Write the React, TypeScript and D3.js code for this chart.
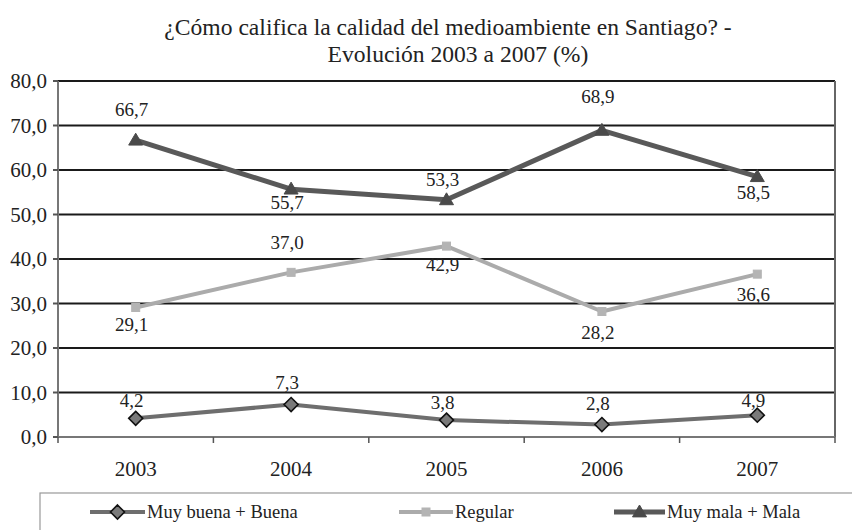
import React from "react";
import * as d3 from "d3";

const years = ["2003", "2004", "2005", "2006", "2007"];
const buena = [4.2, 7.3, 3.8, 2.8, 4.9];
const regular = [29.1, 37.0, 42.9, 28.2, 36.6];
const mala = [66.7, 55.7, 53.3, 68.9, 58.5];
const yTicks = [0, 10, 20, 30, 40, 50, 60, 70, 80];
const seriesNames = ["Muy buena + Buena", "Regular", "Muy mala + Mala"];
const titleLines = ["¿Cómo califica la calidad del medioambiente en Santiago? -", "Evolución 2003 a 2007 (%)"];

// label vertical offsets (label centre relative to point), px
const buenaLabelDy = [-18, -22, -18, -21, -15];
const regularLabelDy = [17, -30, 18, 21, 20];
const malaLabelDy = [-31, 13, -20, -34, 16];

const FONT = "Liberation Serif";

const W = 852;
const H = 530;
const plot = { left: 58, right: 835, top: 81, bottom: 437 };

const x = d3.scaleBand<string>().domain(years).range([plot.left, plot.right]);
const y = d3.scaleLinear().domain([0, 80]).range([plot.bottom, plot.top]);
const cx = (d: string) => (x(d) as number) + x.bandwidth() / 2;

const fmt = (v: number) => v.toFixed(1).replace(".", ",");

type Marker = "diamond" | "square" | "triangle";

function MarkerShape({ type, px, py, fill }: { type: Marker; px: number; py: number; fill: string }) {
  if (type === "diamond") {
    const r = 7;
    return (
      <path
        d={`M${px},${py - r}L${px + r},${py}L${px},${py + r}L${px - r},${py}Z`}
        fill={fill}
        stroke="#111"
        strokeWidth={1.6}
      />
    );
  }
  if (type === "square") {
    const s = 8;
    return <rect x={px - s / 2} y={py - s / 2} width={s} height={s} fill={fill} stroke={fill} strokeWidth={1} />;
  }
  const r = 7;
  return (
    <path
      d={`M${px},${py - r}L${px + r},${py + r * 0.7}L${px - r},${py + r * 0.7}Z`}
      fill={fill}
      stroke={fill}
      strokeWidth={1}
    />
  );
}

const series = [
  { name: seriesNames[0], values: buena, dys: buenaLabelDy, color: "#6e6e6e", markerFill: "#7a7a7a", marker: "diamond" as Marker, width: 4 },
  { name: seriesNames[1], values: regular, dys: regularLabelDy, color: "#ababab", markerFill: "#b4b4b4", marker: "square" as Marker, width: 4 },
  { name: seriesNames[2], values: mala, dys: malaLabelDy, color: "#595959", markerFill: "#4a4a4a", marker: "triangle" as Marker, width: 5 },
];

export default function App() {
  const line = d3
    .line<number>()
    .x((_, i) => cx(years[i]))
    .y((v) => y(v));

  const legendItems = [
    { x0: 90, textX: 147 },
    { x0: 399, textX: 455 },
    { x0: 614, textX: 667 },
  ];

  const txt = { fontFamily: FONT };
  const titleX = [448, 458];

  return (
    <svg width={W} height={H} style={{ position: "absolute", left: 0, top: 0, background: "#fff" }}>
      <rect x={0} y={0} width={W} height={H} fill="#fff" />
      {/* title */}
      {titleLines.map((t, i) => (
        <text key={i} x={titleX[i]} y={35 + i * 27} textAnchor="middle" fontSize={23.6} fill="#222" style={txt}>
          {t}
        </text>
      ))}
      {/* gridlines */}
      {yTicks.filter((t) => t > 0).map((t) => (
        <line key={t} x1={plot.left} x2={plot.right} y1={y(t)} y2={y(t)} stroke="#1a1a1a" strokeWidth={2} />
      ))}
      {/* plot border right */}
      <line x1={plot.right} x2={plot.right} y1={plot.top} y2={plot.bottom} stroke="#666" strokeWidth={2} />
      {/* axes */}
      <line x1={plot.left} x2={plot.left} y1={plot.top} y2={plot.bottom} stroke="#777" strokeWidth={2} />
      <line x1={plot.left} x2={plot.right} y1={plot.bottom} y2={plot.bottom} stroke="#777" strokeWidth={2} />
      {yTicks.map((t) => (
        <g key={t}>
          <line x1={plot.left - 5} x2={plot.left} y1={y(t)} y2={y(t)} stroke="#555" strokeWidth={2} />
          <text x={47} y={y(t)} dy="0.35em" textAnchor="end" fontSize={21} fill="#222" style={txt}>
            {fmt(t)}
          </text>
        </g>
      ))}
      {[...years.map((d) => x(d) as number), plot.right].map((tx, i) => (
        <line key={i} x1={tx} x2={tx} y1={plot.bottom} y2={plot.bottom + 6} stroke="#555" strokeWidth={1.5} />
      ))}
      {years.map((d) => (
        <text key={d} x={cx(d)} y={476} textAnchor="middle" fontSize={21} fill="#222" style={txt}>
          {d}
        </text>
      ))}
      {/* series */}
      {series.map((s) => (
        <g key={s.name}>
          <path d={line(s.values) || ""} fill="none" stroke={s.color} strokeWidth={s.width} strokeLinejoin="round" />
          {s.values.map((v, i) => (
            <MarkerShape key={i} type={s.marker} px={cx(years[i])} py={y(v)} fill={s.markerFill} />
          ))}
        </g>
      ))}
      {series.map((s) =>
        s.values.map((v, i) => (
          <text
            key={s.name + i}
            x={cx(years[i]) - 4}
            y={y(v) + s.dys[i]}
            dy="0.35em"
            textAnchor="middle"
            fontSize={19}
            fill="#222"
            style={txt}
          >
            {fmt(v)}
          </text>
        ))
      )}
      {/* legend */}
      <rect x={40} y={493} width={830} height={60} fill="#fff" stroke="#999" strokeWidth={1.2} />
      {series.map((s, i) => {
        const it = legendItems[i];
        const ly = 512;
        return (
          <g key={s.name}>
            <line x1={it.x0} x2={it.textX - 2} y1={ly} y2={ly} stroke={s.color} strokeWidth={s.width} />
            <MarkerShape type={s.marker} px={(it.x0 + it.textX - 2) / 2} py={ly} fill={s.markerFill} />
            <text x={it.textX} y={ly} dy="0.35em" fontSize={18.5} fill="#222" style={txt}>
              {s.name}
            </text>
          </g>
        );
      })}
    </svg>
  );
}
